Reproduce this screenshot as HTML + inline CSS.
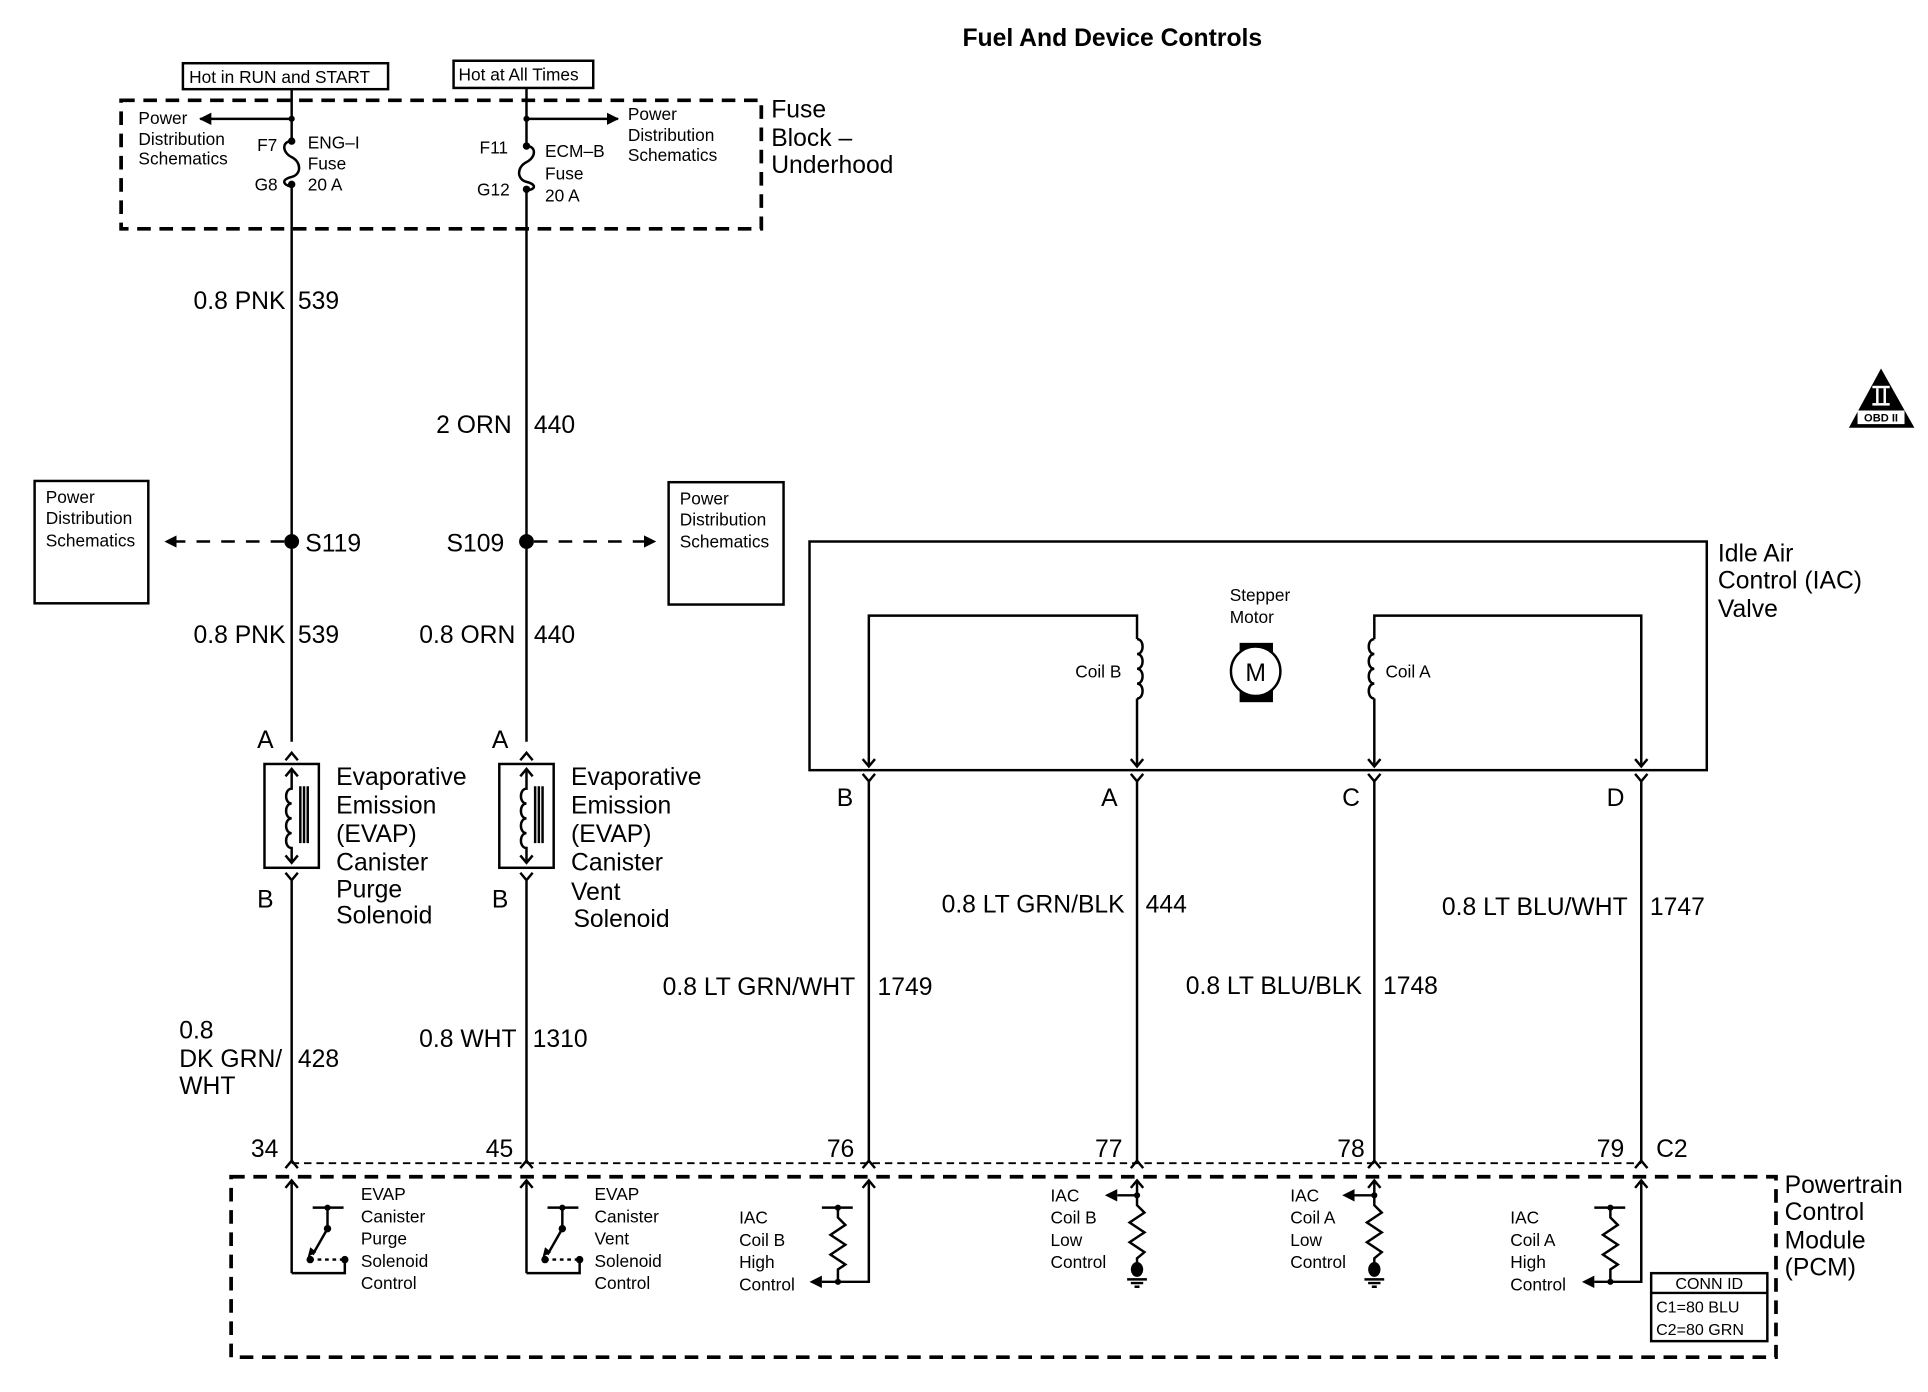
<!DOCTYPE html>
<html><head><meta charset="utf-8"><style>
html,body{margin:0;padding:0;background:#fff;}
svg{display:block;}
text{font-family:"Liberation Sans",Arial,sans-serif;fill:#000;}
.b{font-size:20px;}
.s{font-size:14px;}
.w{stroke:#000;stroke-width:2;fill:none;}
.d{stroke:#000;stroke-width:3;fill:none;stroke-dasharray:11 7;}
</style></head><body>
<svg width="1928" height="1392" viewBox="0 0 1560 1126" xmlns="http://www.w3.org/2000/svg">
<defs>
<marker id="ah" viewBox="0 0 10 10" refX="9" refY="5" markerWidth="5" markerHeight="5" orient="auto"><path d="M0 0L10 5L0 10z" fill="#000"/></marker>
</defs>
<text x="900" y="37" class="b" font-weight="bold" text-anchor="middle">Fuel And Device Controls</text>

<rect x="148" y="51" width="166" height="21" class="w" stroke-width="2.5"/>
<text x="153" y="67" class="s">Hot in RUN and START</text>
<rect x="367" y="49" width="113" height="22" class="w" stroke-width="2.5"/>
<text x="371" y="65" class="s">Hot at All Times</text>

<rect x="98" y="81" width="518" height="104" class="d"/>
<text x="624" y="95" class="b">Fuse</text>
<text x="624" y="118" class="b">Block –</text>
<text x="624" y="140" class="b">Underhood</text>

<path class="w" d="M236 72V114M236 151V600"/>
<path class="w" d="M236 114c-8 0-8 9 0 13c8 4 8 14 0 16c-8 2-8 6 0 8"/>
<circle cx="236" cy="96" r="2.5"/><circle cx="236" cy="114" r="3"/><circle cx="236" cy="149" r="3"/>
<path class="w" d="M236 96H162" marker-end="url(#ah)"/>
<text x="112" y="100" class="s">Power</text><text x="112" y="117" class="s">Distribution</text><text x="112" y="133" class="s">Schematics</text>
<text x="208" y="122" class="s">F7</text><text x="206" y="154" class="s">G8</text>
<text x="249" y="120" class="s">ENG–I</text><text x="249" y="137" class="s">Fuse</text><text x="249" y="154" class="s">20 A</text>

<path class="w" d="M426 71V118M426 154V600"/>
<path class="w" d="M426 118c8 0 8 9 0 13c-8 4-8 14 0 16c8 2 8 6 0 7"/>
<circle cx="426" cy="96" r="2.5"/><circle cx="426" cy="118" r="3"/><circle cx="426" cy="153" r="3"/>
<path class="w" d="M426 96H500" marker-end="url(#ah)"/>
<text x="508" y="97" class="s">Power</text><text x="508" y="114" class="s">Distribution</text><text x="508" y="130" class="s">Schematics</text>
<text x="388" y="124" class="s">F11</text><text x="386" y="158" class="s">G12</text>
<text x="441" y="127" class="s">ECM–B</text><text x="441" y="145" class="s">Fuse</text><text x="441" y="163" class="s">20 A</text>

<text x="231" y="250" class="b" text-anchor="end">0.8 PNK</text><text x="241" y="250" class="b">539</text>
<text x="414" y="350" class="b" text-anchor="end">2 ORN</text><text x="432" y="350" class="b">440</text>

<circle cx="236" cy="438" r="6"/><circle cx="426" cy="438" r="6"/>
<path class="w" d="M230 438H134" stroke-dasharray="11 9" marker-end="url(#ah)"/>
<path class="w" d="M432 438H530" stroke-dasharray="11 9" marker-end="url(#ah)"/>
<text x="247" y="446" class="b">S119</text>
<text x="408" y="446" class="b" text-anchor="end">S109</text>
<rect x="28" y="389" width="92" height="99" class="w" stroke-width="2.5"/>
<text x="37" y="407" class="s">Power</text><text x="37" y="424" class="s">Distribution</text><text x="37" y="442" class="s">Schematics</text>
<rect x="541" y="390" width="93" height="99" class="w" stroke-width="2.5"/>
<text x="550" y="408" class="s">Power</text><text x="550" y="425" class="s">Distribution</text><text x="550" y="443" class="s">Schematics</text>

<text x="231" y="520" class="b" text-anchor="end">0.8 PNK</text><text x="241" y="520" class="b">539</text>
<text x="417" y="520" class="b" text-anchor="end">0.8 ORN</text><text x="432" y="520" class="b">440</text>

<g id="sol1">
<text x="208" y="605" class="b">A</text><text x="208" y="734" class="b">B</text>
<path class="w" d="M231 615L236 609L241 615"/>
<path class="w" d="M231 706L236 712L241 706M236 712V940"/>
<rect x="214" y="618" width="44" height="84" class="w" stroke-width="3"/>
<path class="w" d="M236 622V638c-6 0-6 12 0 12c-6 0-6 12 0 12c-6 0-6 12 0 12c-6 0-6 12 0 12V698" />
<path class="w" d="M231 628L236 622L241 628M231 692L236 698L241 692"/>
<path class="w" d="M243 636V682M246 636V682M249 636V682" stroke-width="1.3"/>
</g>
<use href="#sol1" x="190"/>
<text x="272" y="635" class="b">Evaporative</text><text x="272" y="658" class="b">Emission</text><text x="272" y="681" class="b">(EVAP)</text><text x="272" y="704" class="b">Canister</text><text x="272" y="726" class="b">Purge</text><text x="272" y="747" class="b">Solenoid</text>
<text x="462" y="635" class="b">Evaporative</text><text x="462" y="658" class="b">Emission</text><text x="462" y="681" class="b">(EVAP)</text><text x="462" y="704" class="b">Canister</text><text x="462" y="728" class="b">Vent</text><text x="464" y="750" class="b">Solenoid</text>

<text x="145" y="840" class="b">0.8</text><text x="145" y="863" class="b">DK GRN/</text><text x="145" y="885" class="b">WHT</text><text x="241" y="863" class="b">428</text>
<text x="418" y="847" class="b" text-anchor="end">0.8 WHT</text><text x="431" y="847" class="b">1310</text>

<rect x="655" y="438" width="726" height="185" class="w" stroke-width="3"/>
<text x="1390" y="454" class="b">Idle Air</text><text x="1390" y="476" class="b">Control (IAC)</text><text x="1390" y="499" class="b">Valve</text>
<path class="w" d="M703 620V498H920V517M920 565V620"/>
<path class="w" d="M920 517c6 0 6 12 0 12c6 0 6 12 0 12c6 0 6 12 0 12c6 0 6 12 0 12"/>
<path class="w" d="M1328 620V498H1112V517M1112 565V620"/>
<path class="w" d="M1112 517c-6 0-6 12 0 12c-6 0-6 12 0 12c-6 0-6 12 0 12c-6 0-6 12 0 12"/>
<path class="w" d="M698 614L703 620L708 614M915 614L920 620L925 614M1107 614L1112 620L1117 614M1323 614L1328 620L1333 614"/>
<text x="870" y="548" class="s">Coil B</text><text x="1121" y="548" class="s">Coil A</text>
<text x="995" y="486" class="s">Stepper</text><text x="995" y="504" class="s">Motor</text>
<rect x="1003" y="520" width="27" height="48" fill="#000"/>
<circle cx="1016" cy="543" r="20" fill="#fff" stroke="#000" stroke-width="2"/>
<text x="1016" y="551" class="b" text-anchor="middle">M</text>

<g class="w">
<path d="M698 626L703 632L708 626M703 632V940"/>
<path d="M915 626L920 632L925 626M920 632V940"/>
<path d="M1107 626L1112 632L1117 626M1112 632V940"/>
<path d="M1323 626L1328 632L1333 626M1328 632V940"/>
</g>
<text x="677" y="652" class="b">B</text><text x="891" y="652" class="b">A</text><text x="1086" y="652" class="b">C</text><text x="1300" y="652" class="b">D</text>
<text x="692" y="805" class="b" text-anchor="end">0.8 LT GRN/WHT</text><text x="710" y="805" class="b">1749</text>
<text x="910" y="738" class="b" text-anchor="end">0.8 LT GRN/BLK</text><text x="927" y="738" class="b">444</text>
<text x="1102" y="804" class="b" text-anchor="end">0.8 LT BLU/BLK</text><text x="1119" y="804" class="b">1748</text>
<text x="1317" y="740" class="b" text-anchor="end">0.8 LT BLU/WHT</text><text x="1335" y="740" class="b">1747</text>

<text x="203" y="936" class="b">34</text><text x="393" y="936" class="b">45</text><text x="669" y="936" class="b">76</text>
<text x="886" y="936" class="b">77</text><text x="1082" y="936" class="b">78</text><text x="1292" y="936" class="b">79</text><text x="1340" y="936" class="b">C2</text>
<path d="M236 941H1328" stroke="#000" stroke-width="1.5" stroke-dasharray="6 4"/>
<g class="w">
<path d="M231 945L236 939L241 945M421 945L426 939L431 945M698 945L703 939L708 945M915 945L920 939L925 945M1107 945L1112 939L1117 945M1323 945L1328 939L1333 945"/>
</g>
<rect x="187" y="952" width="1250" height="146" class="d"/>
<text x="1444" y="965" class="b">Powertrain</text><text x="1444" y="987" class="b">Control</text><text x="1444" y="1010" class="b">Module</text><text x="1444" y="1032" class="b">(PCM)</text>

<g id="sw">
<path class="w" d="M236 1030V955M231 961L236 955L241 961M236 1030H279V1019"/>
<path class="w" d="M253 977H278M265 977V994L253 1015"/>
<circle cx="265" cy="977" r="2.5"/><circle cx="265" cy="994" r="3"/><circle cx="251" cy="1019" r="3"/><circle cx="279" cy="1019" r="3"/>
<path d="M251 1019H279" stroke="#000" stroke-width="2" stroke-dasharray="3 3"/>
<path d="M249 1017l2-8l5 4z"/>
</g>
<use href="#sw" x="190"/>
<text x="292" y="971" class="s">EVAP</text><text x="292" y="989" class="s">Canister</text><text x="292" y="1007" class="s">Purge</text><text x="292" y="1025" class="s">Solenoid</text><text x="292" y="1043" class="s">Control</text>
<text x="481" y="971" class="s">EVAP</text><text x="481" y="989" class="s">Canister</text><text x="481" y="1007" class="s">Vent</text><text x="481" y="1025" class="s">Solenoid</text><text x="481" y="1043" class="s">Control</text>

<g id="hi">
<path class="w" d="M703 955V1037H665"/>
<path class="w" d="M698 961L703 955L708 961"/>
<path d="M665 1032L655 1037L665 1042z"/>
<path class="w" d="M665 977H690M678 977V985L684 991L672 999L684 1007L672 1015L684 1023L678 1027V1037"/>
<circle cx="678" cy="977" r="2.5"/><circle cx="678" cy="1037" r="2.5"/>
</g>
<use href="#hi" x="625"/>
<text x="598" y="990" class="s">IAC</text><text x="598" y="1008" class="s">Coil B</text><text x="598" y="1026" class="s">High</text><text x="598" y="1044" class="s">Control</text>
<text x="1222" y="990" class="s">IAC</text><text x="1222" y="1008" class="s">Coil A</text><text x="1222" y="1026" class="s">High</text><text x="1222" y="1044" class="s">Control</text>

<g id="lo">
<path class="w" d="M920 955V975L926 981L914 989L926 997L914 1005L926 1013L920 1018V1030"/>
<path class="w" d="M915 961L920 955L925 961M920 967H904"/>
<path d="M904 962L894 967L904 972z"/>
<circle cx="920" cy="967" r="2.5"/>
<ellipse cx="920" cy="1027" rx="5" ry="6"/>
<path class="w" d="M912 1035H928M915 1038H925M918 1041H922" stroke-width="1.3"/>
</g>
<use href="#lo" x="192"/>
<text x="850" y="972" class="s">IAC</text><text x="850" y="990" class="s">Coil B</text><text x="850" y="1008" class="s">Low</text><text x="850" y="1026" class="s">Control</text>
<text x="1044" y="972" class="s">IAC</text><text x="1044" y="990" class="s">Coil A</text><text x="1044" y="1008" class="s">Low</text><text x="1044" y="1026" class="s">Control</text>

<rect x="1336" y="1030" width="94" height="55" class="w" stroke-width="2.5"/>
<path class="w" d="M1336 1046H1430"/>
<text x="1383" y="1043" text-anchor="middle" font-size="13">CONN ID</text>
<text x="1340" y="1062" font-size="13">C1=80 BLU</text>
<text x="1340" y="1080" font-size="13">C2=80 GRN</text>

<path d="M1522 298L1496 346H1549z"/>
<rect x="1515" y="312" width="14" height="2" fill="#fff"/>
<rect x="1515" y="326" width="14" height="2" fill="#fff"/>
<rect x="1518" y="314" width="2" height="12" fill="#fff"/>
<rect x="1524" y="314" width="2" height="12" fill="#fff"/>
<rect x="1503" y="332" width="38" height="11" fill="#fff"/>
<text x="1522" y="341" text-anchor="middle" font-size="9" font-weight="bold">OBD II</text>
</svg>
</body></html>
